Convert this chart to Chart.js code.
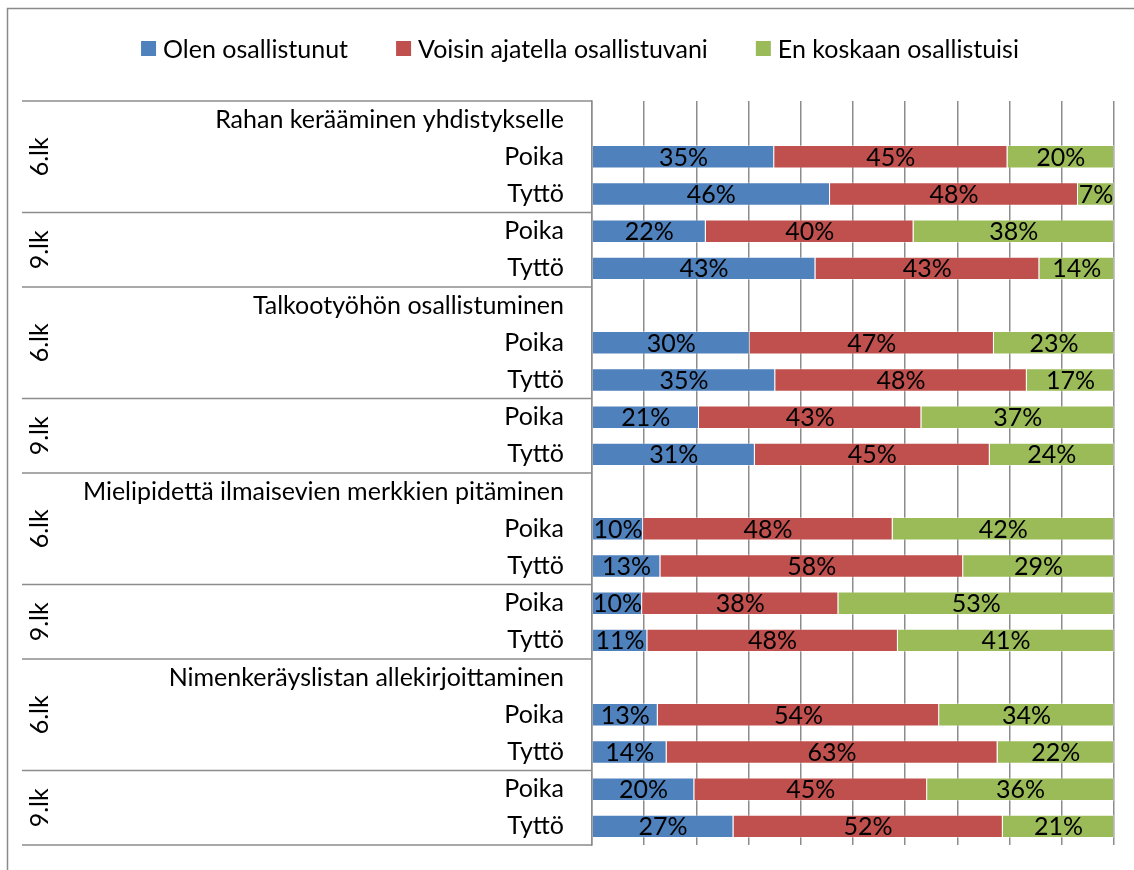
<!DOCTYPE html>
<html>
<head>
<meta charset="utf-8">
<script src="https://cdn.jsdelivr.net/npm/chart.js@4/dist/chart.umd.min.js"></script>
<style>
  html, body { margin: 0; padding: 0; background: #fff; }
  #wrap { width: 1134px; height: 870px; position: relative; }
</style>
</head>
<body>
<div id="wrap"><canvas id="grafica" width="1134" height="870"></canvas></div>
<script>
const sections = ['Rahan kerääminen yhdistykselle', 'Talkootyöhön osallistuminen', 'Mielipidettä ilmaisevien merkkien pitäminen', 'Nimenkeräyslistan allekirjoittaminen'];
const grades = ['6.lk', '9.lk'];
const genders = ['Poika', 'Tyttö'];
const seriesNames = ['Olen osallistunut', 'Voisin ajatella osallistuvani', 'En koskaan osallistuisi'];
const colors = ['#4F81BD', '#C0504D', '#9BBB59'];

// one row per label; header rows (section name) have no bar
const olen   = [null, 34.9, 45.6, 21.8, 42.8, null, 30.2, 35.1, 20.5, 31.2, null, 9.8, 13.1, 9.6, 10.6, null, 12.6, 14.3, 19.6, 27.1];
const voisin = [null, 44.7, 47.5, 39.8, 42.9, null, 46.8, 48.2, 42.6, 45.0, null, 47.8, 58.0, 37.6, 48.0, null, 53.9, 63.4, 44.6, 51.6];
const en     = [null, 20.4, 6.9, 38.4, 14.3, null, 23.0, 16.7, 36.9, 23.8, null, 42.4, 28.9, 52.8, 41.4, null, 33.5, 22.3, 35.8, 21.3];

const xTicks = [0, 10, 20, 30, 40, 50, 60, 70, 80, 90, 100];

const FONT = 'Lato';
const FSIZE = 25;
const gridColor = '#8c8c8c';

// build the row labels: section header, then Poika/Tyttö for each grade
const rowLabels = [];
sections.forEach(s => {
    rowLabels.push(s);
    grades.forEach(() => genders.forEach(g => rowLabels.push(g)));
});

const graph = document.querySelector('#grafica');

const frame = {
    id: 'frame',
    beforeDraw(chart) {
        const ctx = chart.ctx;
        ctx.save();
        ctx.strokeStyle = '#8a8a8a';
        ctx.lineWidth = 1.5;
        ctx.beginPath();
        ctx.moveTo(7.5, 870);
        ctx.lineTo(7.5, 8.5);
        ctx.lineTo(1134, 8.5);
        ctx.stroke();
        ctx.restore();
    }
};

const legendBoxes = {
    id: 'legendBoxes',
    afterDraw(chart) {
        const ctx = chart.ctx;
        ctx.save();
        ctx.font = FSIZE + 'px ' + FONT;
        ctx.textBaseline = 'middle';
        const box = 15, gap = 7, itemGap = 48;
        const sets = chart.data.datasets;
        const widths = sets.map(d => box + gap + ctx.measureText(d.label).width);
        const total = widths.reduce((a, b) => a + b, 0) + itemGap * (sets.length - 1);
        let x = 580 - total / 2;
        const y = 48.5;
        sets.forEach((d, i) => {
            ctx.fillStyle = d.backgroundColor;
            ctx.fillRect(x, y - box / 2, box, box);
            ctx.fillStyle = '#000';
            ctx.fillText(d.label, x + box + gap, y + 1);
            x += widths[i] + itemGap;
        });
        ctx.restore();
    }
};

const groups = {
    id: 'groups',
    afterDraw(chart) {
        const ctx = chart.ctx;
        const yScale = chart.scales.y;
        const left = chart.chartArea.left;
        const step = yScale.getPixelForValue(1) - yScale.getPixelForValue(0);
        ctx.save();
        ctx.strokeStyle = gridColor;
        ctx.lineWidth = 1.5;
        ctx.fillStyle = '#000';
        ctx.font = FSIZE + 'px ' + FONT;
        ctx.textAlign = 'center';
        ctx.textBaseline = 'middle';
        const perSection = 1 + grades.length * genders.length;
        sections.forEach((s, si) => {
            const base = si * perSection;
            // 6.lk covers header + its two rows, 9.lk the next two
            const spans = [[base, base + 2], [base + 3, base + 4]];
            spans.forEach((sp, gi) => {
                const top = yScale.getPixelForValue(sp[0]) - step / 2;
                const bottom = yScale.getPixelForValue(sp[1]) + step / 2;
                ctx.beginPath();
                ctx.moveTo(22, top);
                ctx.lineTo(left, top);
                if (si === sections.length - 1 && gi === spans.length - 1) {
                    ctx.moveTo(22, bottom);
                    ctx.lineTo(left, bottom);
                }
                ctx.stroke();
                ctx.save();
                ctx.translate(40, (top + bottom) / 2);
                ctx.rotate(-Math.PI / 2);
                ctx.fillText(grades[gi], 0, 0);
                ctx.restore();
            });
        });
        ctx.restore();
    }
};

const barLabels = {
    id: 'barLabels',
    afterDatasetsDraw(chart) {
        const ctx = chart.ctx;
        ctx.save();
        ctx.font = FSIZE + 'px ' + FONT;
        ctx.fillStyle = '#000';
        ctx.textAlign = 'center';
        ctx.textBaseline = 'middle';
        chart.data.datasets.forEach((d, i) => {
            chart.getDatasetMeta(i).data.forEach((el, j) => {
                const v = d.data[j];
                if (v == null) return;
                const { x, base, y } = el.getProps(['x', 'base', 'y'], true);
                ctx.fillText(Math.round(v) + '%', (x + base) / 2, y + 1);
            });
        });
        ctx.restore();
    }
};

const data = {
    labels: rowLabels,
    datasets: [olen, voisin, en].map((vals, i) => ({
        label: seriesNames[i],
        data: vals,
        backgroundColor: colors[i],
        borderColor: 'rgba(255,255,255,0.35)',
        borderWidth: 1,
        categoryPercentage: 1,
        barPercentage: 0.63,
    }))
};

const config = {
    type: 'bar',
    data: data,
    options: {
        indexAxis: 'y',
        responsive: false,
        animation: false,
        layout: { padding: { top: 101, right: 20, bottom: 25, left: 0 } },
        plugins: {
            legend: { display: false },
            tooltip: { enabled: false }
        },
        scales: {
            x: {
                stacked: true,
                min: 0,
                max: 100,
                afterBuildTicks: (s) => { s.ticks = xTicks.map(v => ({ value: v })); },
                ticks: { display: false },
                grid: { color: gridColor, lineWidth: 1.5, drawTicks: false },
                border: { display: false },
                afterFit: (s) => { s.height = 0; }
            },
            y: {
                stacked: true,
                ticks: {
                    color: '#000',
                    font: { family: FONT, size: FSIZE },
                    padding: 20,
                    autoSkip: false
                },
                grid: { display: false },
                border: { display: true, color: gridColor, width: 1.5 },
                afterFit: (s) => { s.width = 592; s.paddingTop = 0; s.paddingBottom = 0; }
            }
        }
    },
    plugins: [frame, barLabels, groups, legendBoxes]
};

const myChart = new Chart(graph, config);
</script>
</body>
</html>
